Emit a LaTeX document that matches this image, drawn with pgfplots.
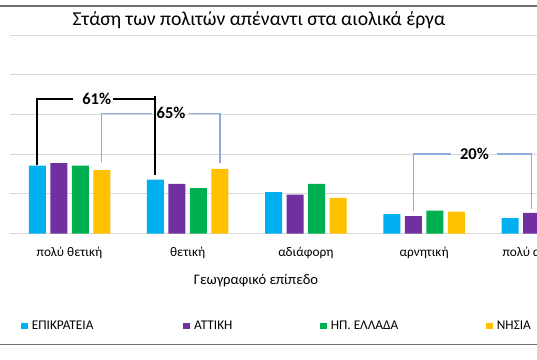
\documentclass[border=0pt]{standalone}
\usepackage{pgfplots}
\pgfplotsset{compat=1.18}
\usepackage{fontspec}
\setmainfont{Carlito}
\definecolor{cEpi}{HTML}{00B0F0}
\definecolor{cAtt}{HTML}{7030A0}
\definecolor{cHp}{HTML}{00B050}
\definecolor{cNis}{HTML}{FFC000}
\definecolor{gridc}{HTML}{D9D9D9}
\definecolor{framec}{HTML}{707070}
\definecolor{brblue}{HTML}{8FAADC}
\begin{document}
\begin{tikzpicture}
\useasboundingbox (0,0) rectangle (537bp,-360bp);
\clip (0,0) rectangle (537bp,-360bp);
\fill[white] (0,0) rectangle (537bp,-360bp);
\draw[framec, line width=1.5bp] (0,-6bp) -- (537bp,-6bp);
\draw[framec, line width=1.5bp] (0,-344.5bp) -- (537bp,-344.5bp);
\begin{axis}[
  at={(10.4bp,-233.5bp)}, anchor=south west,
  scale only axis, width=591bp, height=198.5bp,
  xmin=-0.5, xmax=4.5, ymin=0, ymax=100,
  axis line style={draw=none},
  ymajorgrids, ytick={0,20,40,60,80,100}, yticklabels={},
  grid style={draw=gridc, line width=1bp},
  xtick={0,1,2,3,4},
  xticklabels={πολύ θετική, θετική, αδιάφορη, αρνητική, πολύ αρνητική},
  major tick length=0pt,
  xticklabel style={font=\fontsize{13.3bp}{16bp}\selectfont, yshift=-10bp},
  title={Στάση των πολιτών απέναντι στα αιολικά έργα},
  title style={at={(axis description cs:0.4206,1)}, anchor=base, yshift=4bp, font=\fontsize{19.7bp}{23bp}\selectfont},
  xlabel={Γεωγραφικό επίπεδο},
  xlabel style={at={(axis description cs:0.4156,-0.2594)}, anchor=base, font=\fontsize{14.6bp}{17bp}\selectfont},
  ybar=4.5bp, bar width=17bp,
  legend columns=4,
  legend style={at={(axis description cs:0.0179,-0.466)}, anchor=west, draw=none, fill=none, inner sep=0pt,
    nodes={inner sep=0pt, font=\fontsize{13.3bp}{16bp}\selectfont},
    /tikz/column sep=0pt},
  legend cell align=left,
  legend image code/.code={\fill[#1] (0bp,-3.3bp) rectangle (6.5bp,3.3bp);},
]
\addplot[fill=cEpi, draw=none] coordinates {(0,34.2) (1,27.2) (2,20.8) (3,9.8) (4,7.7)};
\addplot[fill=cAtt, draw=none] coordinates {(0,35.4) (1,25.0) (2,19.6) (3,8.8) (4,10.4)};
\addplot[fill=cHp, draw=none] coordinates {(0,34.2) (1,22.8) (2,25.0) (3,11.5) (4,6.5)};
\addplot[fill=cNis, draw=none] coordinates {(0,31.9) (1,32.6) (2,17.9) (3,11.0) (4,6.6)};
\legend{\makebox[155.8bp][l]{\hspace{4.2bp}ΕΠΙΚΡΑΤΕΙΑ},\makebox[130.2bp][l]{\hspace{4.2bp}ΑΤΤΙΚΗ},\makebox[159.5bp][l]{\hspace{4.2bp}ΗΠ. ΕΛΛΑΔΑ},\makebox[50bp][l]{\hspace{4.2bp}ΝΗΣΙΑ}}
% 65% bracket (blue)
\draw[brblue, line width=1.2bp] (axis cs:0.2726,36.2) -- (axis cs:0.2726,60.6) -- (axis cs:0.698,60.6);
\draw[brblue, line width=1.2bp] (axis cs:1.011,60.6) -- (axis cs:1.2726,60.6) -- (axis cs:1.2726,35.4);
\node[font=\bfseries\fontsize{16.5bp}{18bp}\selectfont] at (axis cs:0.859,60.6) {65\%};
% 20% bracket (blue)
\draw[brblue, line width=1.2bp] (axis cs:2.909,11.5) -- (axis cs:2.909,40.05) -- (axis cs:3.228,40.05);
\draw[brblue, line width=1.2bp] (axis cs:3.614,40.05) -- (axis cs:3.909,40.05) -- (axis cs:3.909,12.3);
\node[font=\bfseries\fontsize{16.5bp}{18bp}\selectfont] at (axis cs:3.426,40.05) {20\%};
% 61% bracket (black)
\draw[black, line width=2bp] (axis cs:-0.2726,34.5) -- (axis cs:-0.2726,67.6) -- (axis cs:0.0296,67.6);
\draw[black, line width=2bp] (axis cs:0.368,67.6) -- (axis cs:0.7274,67.6);
\draw[black, line width=2bp] (axis cs:0.7274,69.2) -- (axis cs:0.7274,29.5);
\node[font=\bfseries\fontsize{16.5bp}{18bp}\selectfont] at (axis cs:0.23,67.6) {61\%};
\end{axis}
\end{tikzpicture}
\end{document}
